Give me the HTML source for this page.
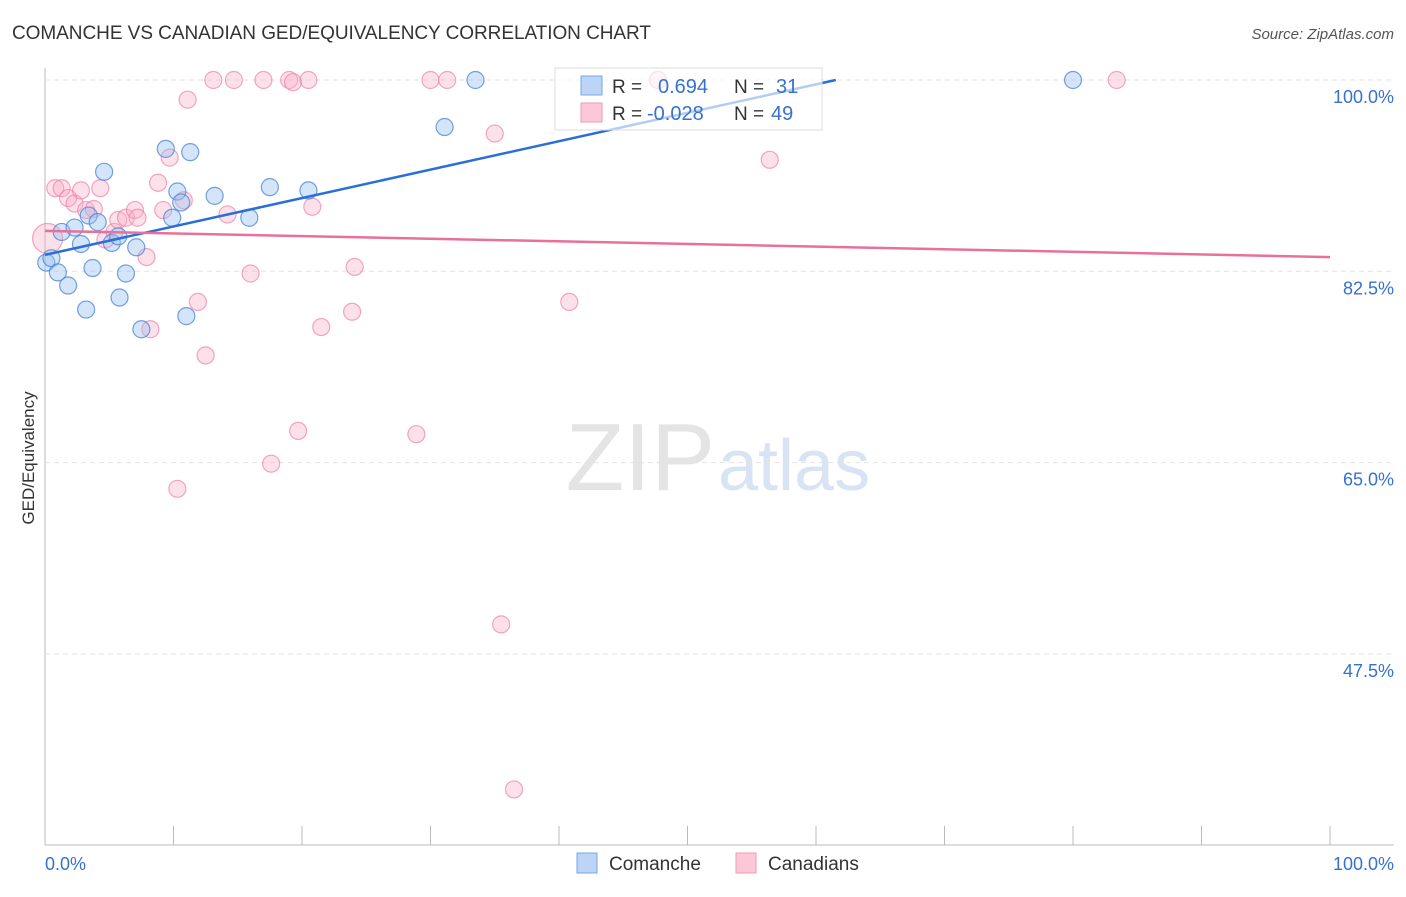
<!DOCTYPE html>
<html><head><meta charset="utf-8"><style>
body{margin:0;background:#fff;font-family:"Liberation Sans",sans-serif}
svg text{font-family:"Liberation Sans",sans-serif}
</style></head><body>
<svg id="c" width="1406" height="892">
<text x="12" y="39" font-size="19" fill="#333" textLength="639">COMANCHE VS CANADIAN GED/EQUIVALENCY CORRELATION CHART</text>
<text x="1394" y="39" font-size="15" fill="#555" text-anchor="end" font-style="italic">Source: ZipAtlas.com</text>
<text x="34" y="458" font-size="17" fill="#333" transform="rotate(-90 34 458)" text-anchor="middle">GED/Equivalency</text>
<text x="715" y="490" font-size="96" fill="#e4e4e4" text-anchor="end" font-family="Liberation Serif">ZIP</text>
<text x="718" y="490" font-size="72" fill="#d8e4f4">atlas</text>
<g id="grid"></g><g id="pts"></g><g id="lines"></g>
<g>
<rect x="555" y="68" width="267" height="62" fill="rgba(255,255,255,0.65)" stroke="#ddd"/>
<rect x="581" y="76" width="21" height="19" fill="#bcd4f6" stroke="#7aa6e6"/>
<rect x="581" y="103" width="21" height="19" fill="#fcc8d8" stroke="#ee9ab4"/>
<text x="612" y="93" font-size="19" fill="#333">R =</text>
<text x="658" y="93" font-size="20" fill="#3572d0">0.694</text>
<text x="734" y="93" font-size="19" fill="#333">N =</text>
<text x="776" y="93" font-size="20" fill="#3572d0">31</text>
<text x="612" y="120" font-size="19" fill="#333">R =</text>
<text x="647" y="120" font-size="20" fill="#3572d0">-0.028</text>
<text x="734" y="120" font-size="19" fill="#333">N =</text>
<text x="771" y="120" font-size="20" fill="#3572d0">49</text>
</g>
<g>
<rect x="577" y="853" width="20" height="20" fill="#bcd4f6" stroke="#7aa6e6"/>
<text x="609" y="870" font-size="19" fill="#333">Comanche</text>
<rect x="736" y="853" width="20" height="20" fill="#fcc8d8" stroke="#ee9ab4"/>
<text x="768" y="870" font-size="19" fill="#333">Canadians</text>
</g>
<text x="45" y="870" font-size="18" fill="#3572d0">0.0%</text>
<text x="1394" y="870" font-size="18" fill="#3572d0" text-anchor="end">100.0%</text>
</svg>
<script>
const yTicks=[100,82.5,65,47.5];
const yTickLabels=["100.0%","82.5%","65.0%","47.5%"];
const blueX=[0.1,0.5,1.0,1.8,1.3,2.3,2.8,3.2,3.4,3.7,4.1,4.6,5.2,5.7,5.8,6.3,7.1,7.5,9.4,9.9,10.3,10.6,11.0,11.3,13.2,15.9,17.5,20.5,31.1,33.5,80.0];
const blueY=[83.3,83.7,82.4,81.2,86.1,86.5,85.0,79.0,87.6,82.8,87.0,91.6,85.1,85.7,80.1,82.3,84.7,77.2,93.7,87.4,89.8,88.8,78.4,93.4,89.4,87.4,90.2,89.9,95.7,100,100];
const pinkX=[0.2,0.8,1.3,1.8,2.3,2.8,3.2,3.8,4.3,4.7,5.4,5.7,6.3,7.0,7.2,7.9,8.2,8.8,9.2,9.7,10.8,11.1,11.9,12.5,13.1,14.2,14.7,16.0,17.0,17.6,10.3,19.0,19.3,19.7,20.5,20.8,21.5,23.9,24.1,28.9,30.0,31.3,35.0,35.5,36.5,40.8,47.7,56.4,83.4];
const pinkY=[85.5,90.1,90.1,89.2,88.7,89.9,88.1,88.2,90.1,85.4,86.1,87.2,87.4,88.1,87.4,83.8,77.2,90.6,88.1,92.9,89.0,98.2,79.7,74.8,100,87.7,100,82.3,100,64.9,62.6,100,99.8,67.9,100,88.4,77.4,78.8,82.9,67.6,100,100,95.1,50.2,35.1,79.7,100,92.7,100];
const blueTrend=[84.0,110.0];
const pinkTrend=[86.2,83.8];
const NS="http://www.w3.org/2000/svg";
const X=v=>45+v*12.85, Y=v=>80+(100-v)*191.3/17.5;
function mk(t,a,p){const e=document.createElementNS(NS,t);for(const k in a)e.setAttribute(k,a[k]);p.appendChild(e);return e;}
const grid=document.getElementById('grid');
let ax=mk('line',{x1:45,y1:68,x2:45,y2:845,stroke:'#bbb'},grid);


let bx=mk('line',{x1:45,y1:845,x2:1394,y2:845,stroke:'#bbb'},grid);


for(let i=1;i<=10;i++){let t=mk('line',{x1:X(i*10),x2:X(i*10),y1:826,y2:845,stroke:'#bbb'},grid);

}
yTicks.forEach((v,i)=>{let g=mk('line',{x1:45,x2:1394,y1:Y(v),y2:Y(v),stroke:'#e2e2e2','stroke-dasharray':'5,4'},grid);


let t=mk('text',{x:1394,y:Y(v)+23,'font-size':18,fill:'#3572d0','text-anchor':'end'},grid);t.textContent=yTickLabels[i];

});
const pts=document.getElementById('pts');
pinkX.forEach((x,i)=>{let c=mk('circle',{cx:X(x),cy:Y(pinkY[i]),r:i==0?15:8.5,fill:'rgba(248,170,195,0.35)',stroke:'rgba(236,130,165,0.7)','stroke-width':1.2},pts);

});
blueX.forEach((x,i)=>{let c=mk('circle',{cx:X(x),cy:Y(blueY[i]),r:8.5,fill:'rgba(150,190,240,0.4)',stroke:'rgba(70,130,215,0.75)','stroke-width':1.2},pts);

});
const L=document.getElementById('lines');
const bx2=(100-blueTrend[0])/(blueTrend[1]-blueTrend[0])*100;
let bl=mk('line',{x1:X(0),y1:Y(blueTrend[0]),x2:X(bx2),y2:Y(100),stroke:'#2a6fd6','stroke-width':2.5},L);


let pl=mk('line',{x1:X(0),y1:Y(pinkTrend[0]),x2:X(100),y2:Y(pinkTrend[1]),stroke:'#e8709a','stroke-width':2.5},L);


</script>
</body></html>
